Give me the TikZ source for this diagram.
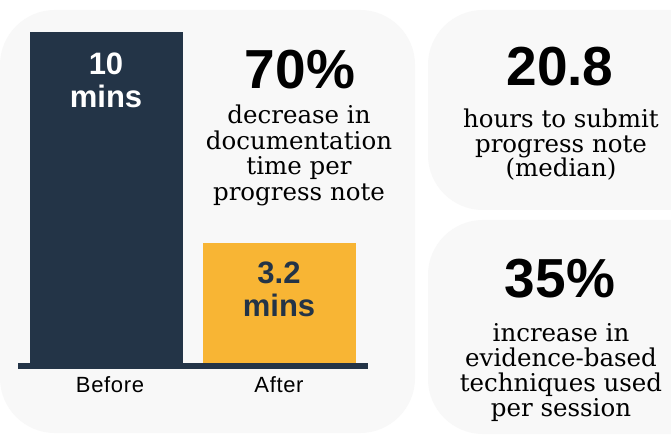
\documentclass[tikz,border=0pt]{standalone}
\usepackage{fontspec}
\setmainfont{DejaVu Serif}
\setsansfont{Liberation Sans}
\newfontfamily\axisfont[LetterSpace=3]{Liberation Sans}
\definecolor{panel}{HTML}{F8F8F8}
\definecolor{navy}{HTML}{233447}
\definecolor{gold}{HTML}{F8B534}
\begin{document}
\begin{tikzpicture}[x=1pt,y=-1pt,
  panelbox/.style={fill=panel, rounded corners=55pt},
  bignum/.style={font=\sffamily\bfseries\fontsize{55}{60}\selectfont, inner sep=0pt, anchor=base},
  barlabel/.style={font=\sffamily\bfseries\fontsize{31}{33}\selectfont, align=center, inner sep=0pt},
  desc/.style={font=\fontsize{24.5}{25.5}\selectfont, align=center, inner sep=0pt},
  axislabel/.style={font=\axisfont\fontsize{22}{24}\selectfont, inner sep=0pt, anchor=base}]
\useasboundingbox (0,0) rectangle (671,435);
\clip (0,0) rectangle (671,435);
\fill[white] (0,0) rectangle (671,435);
% panels
\fill[panelbox] (0,10) rectangle (415,433);
\fill[panelbox] (428,10) rectangle (730,210);
\fill[panelbox] (428,220) rectangle (730,434);
% bars
\fill[navy] (30,32) rectangle (183,366);
\fill[gold] (203,243) rectangle (356,369);
\draw[navy, line width=6pt] (18,366) -- (368,366);
% bar labels
\node[barlabel, text=white] (before) at (106,80.5) {10\\mins};
\node[barlabel, text=navy] (after) at (279,289) {3.2\\mins};
\node[axislabel] (lbefore) at (110,392) {Before};
\node[axislabel] (lafter) at (279,392) {After};
% left stat
\node[bignum] (p70) at (300,89) {70\%};
\node[desc] (d70) at (299,155.6) {decrease in\\documentation\\time per\\progress note};
% right top
\node[bignum] (h208) at (560,86) {20.8};
\node[desc, font=\fontsize{24.5}{24.5}\selectfont] (d208) at (561,145) {hours to submit\\progress note\\(median)};
% right bottom
\node[bignum] (p35) at (560,298) {35\%};
\node[desc, font=\fontsize{24.5}{25}\selectfont] (d35) at (561,372.7) {increase in\\evidence-based\\techniques used\\per session};
\end{tikzpicture}
\end{document}
